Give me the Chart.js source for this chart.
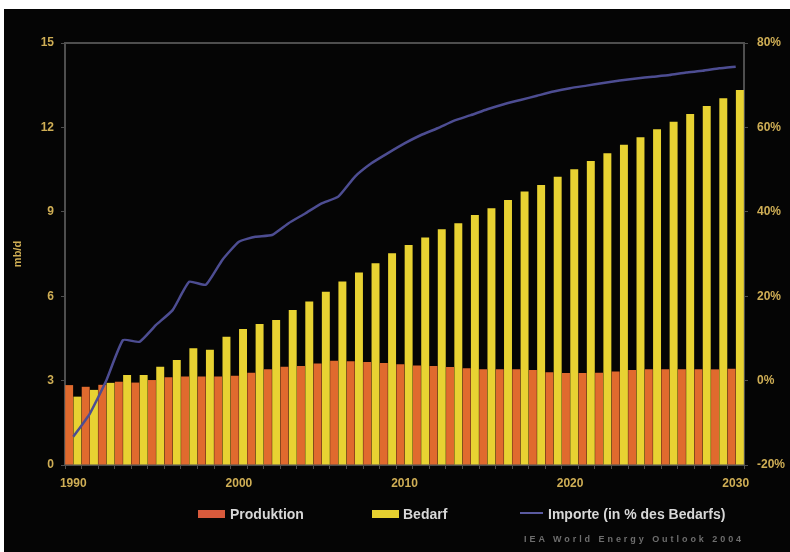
<!DOCTYPE html>
<html>
<head>
<meta charset="utf-8">
<script src="https://cdn.jsdelivr.net/npm/chart.js@4.4.1/dist/chart.umd.min.js"></script>
<style>
  html, body { margin: 0; padding: 0; background: #ffffff; width: 790px; height: 552px; overflow: hidden; }
  #wrap { position: absolute; left: 4px; top: 9px; width: 786px; height: 543px; background: #050505; }
  #c { display: block; }
  .leg { position: absolute; font-family: "Liberation Sans", Arial, sans-serif; font-weight: bold; font-size: 14px; color: #d8d8d8; line-height: 16px; white-space: nowrap; }
  .box { position: absolute; height: 8px; }
  .src { position: absolute; font-family: "Liberation Sans", Arial, sans-serif; font-weight: bold; font-size: 9px; letter-spacing: 2.95px; color: #6e6e6e; white-space: nowrap; }
</style>
</head>
<body>
<div id="wrap"><canvas id="c" width="786" height="543"></canvas></div>

<div class="box" style="left:198px; top:510px; width:27px; background:#d85a3c;"></div>
<div class="leg" style="left:230px; top:506px;">Produktion</div>
<div class="box" style="left:372px; top:510px; width:27px; background:#e6d030;"></div>
<div class="leg" style="left:403px; top:506px;">Bedarf</div>
<div class="box" style="left:520px; top:512px; width:23px; height:2px; background:#5a5aa0;"></div>
<div class="leg" style="left:548px; top:506px;">Importe (in % des Bedarfs)</div>
<div class="src" style="left:524px; top:534px;">IEA World Energy Outlook 2004</div>

<script>
const years = [1990,1991,1992,1993,1994,1995,1996,1997,1998,1999,
               2000,2001,2002,2003,2004,2005,2006,2007,2008,2009,
               2010,2011,2012,2013,2014,2015,2016,2017,2018,2019,
               2020,2021,2022,2023,2024,2025,2026,2027,2028,2029,2030];

const produktion = [2.84,2.78,2.85,2.96,2.93,3.02,3.12,3.15,3.15,3.15,
                    3.17,3.28,3.40,3.49,3.52,3.61,3.71,3.69,3.66,3.63,
                    3.58,3.54,3.52,3.48,3.44,3.40,3.40,3.40,3.38,3.30,
                    3.27,3.27,3.28,3.32,3.38,3.40,3.40,3.40,3.40,3.40,3.42];

const bedarf = [2.43,2.67,2.92,3.20,3.20,3.49,3.73,4.15,4.10,4.56,
                4.83,5.01,5.15,5.51,5.81,6.16,6.52,6.84,7.17,7.53,
                7.82,8.09,8.38,8.59,8.89,9.13,9.42,9.72,9.95,10.25,
                10.51,10.81,11.08,11.38,11.65,11.93,12.20,12.48,12.76,13.04,13.33];

const importe = [-13.3,-7.8,0.1,9.6,9.2,13.2,16.7,23.4,22.7,28.6,
                 32.9,34.1,34.5,37.3,39.6,42.0,43.6,48.3,51.5,53.9,
                 56.2,58.2,59.8,61.6,62.9,64.3,65.5,66.5,67.5,68.5,
                 69.3,69.9,70.5,71.1,71.6,72.0,72.4,73.0,73.4,74.0,74.4];

const leftTicks = [0, 3, 6, 9, 12, 15];
const rightTicks = [-20, 0, 20, 40, 60, 80];
const xLabelYears = [1990, 2000, 2010, 2020, 2030];

const seriesNames = ['Produktion', 'Bedarf', 'Importe (in % des Bedarfs)'];

const gold = '#cfae55';
const frame = '#4e4e4e';
const tickFont = { family: '"Liberation Sans", Arial, sans-serif', size: 12, weight: 'bold' };

const topLine = {
  id: 'topLine',
  afterDraw(chart) {
    const { ctx, chartArea } = chart;
    ctx.save();
    ctx.strokeStyle = frame;
    ctx.lineWidth = 2;
    ctx.beginPath();
    ctx.moveTo(chartArea.left - 1, chartArea.top);
    ctx.lineTo(chartArea.right + 1, chartArea.top);
    ctx.stroke();
    ctx.restore();
  }
};

new Chart(document.getElementById('c'), {
  type: 'bar',
  data: {
    labels: years,
    datasets: [
      {
        type: 'line',
        label: seriesNames[2],
        data: importe,
        yAxisID: 'y2',
        borderColor: '#4d4d92',
        borderWidth: 2.5,
        pointRadius: 0,
        tension: 0.15,
        order: 0
      },
      {
        label: seriesNames[0],
        data: produktion,
        yAxisID: 'y',
        backgroundColor: '#e06a2e',
        barPercentage: 0.96,
        categoryPercentage: 1.0,
        order: 1
      },
      {
        label: seriesNames[1],
        data: bedarf,
        yAxisID: 'y',
        backgroundColor: '#e8d232',
        barPercentage: 0.96,
        categoryPercentage: 1.0,
        order: 1
      }
    ]
  },
  options: {
    responsive: false,
    animation: false,
    devicePixelRatio: 1,
    layout: { padding: { top: 34, left: 0, right: 0, bottom: 0 } },
    plugins: {
      legend: { display: false },
      tooltip: { enabled: false }
    },
    scales: {
      x: {
        type: 'category',
        offset: true,
        afterFit: (s) => { s.height = 87; },
        grid: { display: true, drawOnChartArea: false, drawTicks: true, tickLength: 4, color: frame, offset: true },
        border: { display: true, color: frame, width: 2 },
        ticks: {
          color: gold,
          font: tickFont,
          padding: 7,
          autoSkip: false,
          maxRotation: 0,
          callback: function(v, i) {
            const yr = years[i];
            return xLabelYears.includes(yr) ? String(yr) : '';
          }
        }
      },
      y: {
        position: 'left',
        min: 0,
        max: 15,
        afterFit: (s) => { s.width = 61; },
        afterBuildTicks: (s) => { s.ticks = leftTicks.map(v => ({ value: v })); },
        grid: { display: true, drawOnChartArea: false, tickLength: 4, color: frame },
        border: { display: true, color: frame, width: 2 },
        ticks: { color: gold, font: tickFont, padding: 7 },
        title: {
          display: true,
          text: 'mb/d',
          color: gold,
          font: { family: '"Liberation Sans", Arial, sans-serif', size: 11, weight: 'bold' },
          padding: { top: 7, bottom: 0 }
        }
      },
      y2: {
        position: 'right',
        min: -20,
        max: 80,
        afterFit: (s) => { s.width = 46; },
        afterBuildTicks: (s) => { s.ticks = rightTicks.map(v => ({ value: v })); },
        grid: { display: true, drawOnChartArea: false, tickLength: 4, color: frame },
        border: { display: true, color: frame, width: 2 },
        ticks: { color: gold, font: tickFont, padding: 9, callback: (v) => v + '%' }
      }
    }
  },
  plugins: [topLine]
});
</script>
</body>
</html>
